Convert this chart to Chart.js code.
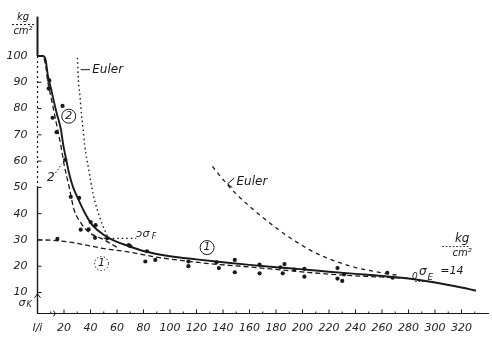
<!DOCTYPE html>
<html>
<head>
<meta charset="utf-8">
<script src="https://cdn.jsdelivr.net/npm/chart.js@4.4.0/dist/chart.umd.min.js"></script>
<style>
  html, body { margin: 0; padding: 0; background: #fff; }
</style>
</head>
<body>
<canvas id="GraficoKnick" width="492" height="342"></canvas>
<script>
/* Werte: Schlankheit l/i, Spannung kg/cm2 */
var xTicks = [0, 20, 40, 60, 80, 100, 120, 140, 160, 180, 200, 220, 240, 260, 280, 300, 320];
var yTicks = [10, 20, 30, 40, 50, 60, 70, 80, 90, 100];

// ausgezogene Kurve
var kurveLam = [0, 4, 6, 8, 10, 12, 14.4, 17.6, 19.5, 21.7, 24, 26.9, 30, 35, 40, 45, 55, 69, 80, 100, 120, 140, 160, 180, 200, 220, 240, 260, 280, 300, 320, 331];
var kurveSig = [100, 100, 98.8, 92, 88, 83.5, 78.4, 72.2, 66, 60.5, 55, 50, 46.4, 41, 36.6, 33.9, 30.4, 27.6, 25.8, 23.8, 22.6, 21.5, 20.5, 19.6, 18.8, 17.9, 17.1, 16.3, 15.3, 13.8, 11.9, 10.7];

// gestrichelt (1)
var eins_Lam = [0, 10, 24, 40, 49, 69, 88, 113, 138, 160, 203, 228, 250, 280];
var eins_Sig = [30, 29.9, 29.2, 27.7, 26.8, 25.4, 23.6, 21.9, 20.6, 19.7, 17.7, 16.7, 16.1, 15.4];

// gestrichelt (2)
var zwei_Lam = [5, 6.4, 7.6, 10.1, 12.6, 15.1, 17.6, 20.1, 23.9, 27.6, 32.6, 38.9, 48.9, 60];
var zwei_Sig = [99, 95.6, 90.7, 84.5, 78.4, 72.2, 66, 58.7, 50.1, 41.5, 36.6, 32.9, 30.4, 27.2];

// Euler links (punktiert)
var eulerA_Lam = [30.1, 30.9, 32.1, 33.1, 34.4, 35.6, 38.9, 41.9, 45.1, 48.9, 52.6];
var eulerA_Sig = [99.3, 90.7, 84.5, 78.3, 72.2, 66, 56.2, 47.6, 41.5, 35.9, 31.6];

// Fliessgrenze
var fliessLam = [50, 74.5];
var fliessSig = [30.6, 30.6];

// Euler rechts (gestrichelt)
var eulerB_Lam = [132, 140, 150, 160, 170, 180, 190, 200, 210, 220, 230, 240, 250, 262, 272];
var eulerB_Sig = [58, 53, 47.5, 42.8, 38.6, 34.6, 31, 27.8, 25, 22.8, 21, 19.5, 18.4, 17.3, 16.5];

// Versuchswerte
var versLam = [8.9, 8.4, 18.9, 11.4, 14.4, 20.9, 25.1, 31.4, 32.6, 40.1, 43.9, 43.4, 38.6, 52.6, 70.1, 15,
  68.9, 82.6, 81.4, 88.9, 113.9, 113.9, 135.1, 136.9, 148.9, 148.9,
  167.6, 167.6, 183.4, 186.4, 185.1, 193.9, 201.4, 201.4, 226.4, 226.4, 231.4, 230, 264, 268];
var versSig = [90.7, 87.6, 81, 76.5, 71, 60.5, 46.4, 46, 33.9, 36.8, 35.6, 30.8, 34, 30.6, 27.6, 30.4,
  28, 25.7, 21.8, 22.4, 21.8, 20, 21.5, 19.3, 22.4, 17.7,
  20.6, 17.3, 19.6, 20.8, 17.3, 18.7, 19, 16, 19.3, 15.3, 16.9, 14.4, 17.5, 15.6];

function punkte(lam, sig) {
    return lam.map(function (l, i) { return { x: l, y: sig[i] }; });
}

var tinte = '#1a1a1a';
var schrift = 'italic 11px "DejaVu Sans"';

function linie(lam, sig, dash, breite) {
    return {
        type: 'line',
        data: punkte(lam, sig),
        borderColor: tinte,
        borderWidth: breite,
        borderDash: dash,
        pointRadius: 0,
        fill: false,
        cubicInterpolationMode: 'monotone'
    };
}

var zusatz = {
    id: 'zusatz',
    afterDraw: function (chart) {
        var c = chart.ctx, sx = chart.scales.x, sy = chart.scales.y, a = chart.chartArea;
        var X = function (v) { return sx.getPixelForValue(v); };
        var Y = function (v) { return sy.getPixelForValue(v); };
        c.save();
        c.strokeStyle = tinte;
        c.fillStyle = tinte;

        // y-Achse
        c.lineWidth = 2;
        c.beginPath(); c.moveTo(a.left, a.top); c.lineTo(a.left, Y(100)); c.stroke();
        c.lineWidth = 1.2;
        c.setLineDash([2, 3]);
        c.beginPath(); c.moveTo(a.left, Y(100)); c.lineTo(a.left, Y(50)); c.stroke();
        c.setLineDash([]);
        c.lineWidth = 1.4;
        c.beginPath(); c.moveTo(a.left, Y(50)); c.lineTo(a.left, a.bottom); c.stroke();

        // Striche
        c.lineWidth = 1;
        yTicks.forEach(function (v) {
            c.beginPath(); c.moveTo(a.left, Y(v)); c.lineTo(a.left + 4, Y(v)); c.stroke();
        });
        for (var v = 10; v <= 330; v += 10) {
            var h = v % 20 === 0 ? 4 : 2;
            c.beginPath(); c.moveTo(X(v), a.bottom); c.lineTo(X(v), a.bottom - h); c.stroke();
        }

        // Pfeile unten links
        c.beginPath(); c.moveTo(a.left - 3, Y(8)); c.lineTo(a.left, Y(9.5)); c.lineTo(a.left + 3, Y(8)); c.stroke();
        c.beginPath(); c.moveTo(a.left + 5, a.bottom); c.lineTo(X(13.5), a.bottom); c.stroke();
        c.beginPath(); c.moveTo(X(12), a.bottom - 3); c.lineTo(X(13.5), a.bottom); c.lineTo(X(12), a.bottom + 3); c.stroke();

        c.font = schrift;
        c.textBaseline = 'middle';
        c.textAlign = 'center';

        // kg/cm2 oben
        c.font = 'italic 10px "DejaVu Sans"';
        c.fillText('kg', 23, 17);
        c.fillText('cm²', 23, 31);
        c.setLineDash([2, 2]);
        c.beginPath(); c.moveTo(12, 24.5); c.lineTo(35, 24.5); c.stroke();
        c.setLineDash([]);

        // sigma k
        c.font = 'italic 11px "DejaVu Sans"';
        c.fillText('σ', 22, 303);
        c.font = 'italic 8px "DejaVu Sans"';
        c.fillText('K', 29, 305);

        // Euler links
        c.font = 'italic 12px "DejaVu Sans"';
        c.textAlign = 'left';
        c.beginPath(); c.moveTo(X(32.6), Y(94.8)); c.lineTo(X(39.5), Y(94.8)); c.stroke();
        c.fillText('Euler', X(41.3), Y(94.8));

        // Euler rechts
        c.beginPath(); c.moveTo(X(148.5), Y(53.6)); c.lineTo(X(143.5), Y(51.3)); c.lineTo(X(147), Y(50)); c.stroke();
        c.fillText('Euler', X(150.2), Y(52));

        // Fliessgrenze
        c.font = 'italic 11px "DejaVu Sans"';
        c.fillText('ɔσ', X(74.6), Y(32.2));
        c.font = 'italic 8px "DejaVu Sans"';
        c.fillText('F', X(86.3), Y(31.1));

        // sigma E = 14
        c.font = 'italic 9px "DejaVu Sans"';
        c.fillText('0', X(282.6), Y(15.9));
        c.font = 'italic 12px "DejaVu Sans"';
        c.fillText('σ', X(288), Y(17.8));
        c.font = 'italic 9px "DejaVu Sans"';
        c.fillText('E', X(294.4), Y(15.7));
        c.font = 'italic 11px "DejaVu Sans"';
        c.fillText('=14', X(304), Y(18.3));
        c.setLineDash([1.5, 2]);
        c.beginPath(); c.moveTo(X(285), Y(14.2)); c.lineTo(X(301), Y(14.2)); c.stroke();
        c.setLineDash([]);

        // kg/cm2 rechts
        c.textAlign = 'center';
        c.font = 'italic 12px "DejaVu Sans"';
        c.fillText('kg', X(320.5), Y(30.5));
        c.font = 'italic 10px "DejaVu Sans"';
        c.fillText('cm²', X(320.5), Y(25));
        c.setLineDash([1.5, 2]);
        c.beginPath(); c.moveTo(X(305.5), Y(27.5)); c.lineTo(X(325.5), Y(27.5)); c.stroke();
        c.setLineDash([]);

        // Kreise (1) und (2)
        c.font = 'italic 11px "DejaVu Sans"';
        c.lineWidth = 1;
        c.beginPath(); c.arc(X(23.6), Y(77.1), 7, 0, 2 * Math.PI); c.stroke();
        c.fillText('2', X(23.6), Y(77.1));
        c.beginPath(); c.arc(X(128), Y(27.1), 7, 0, 2 * Math.PI); c.stroke();
        c.fillText('1', X(128), Y(27.1));
        c.setLineDash([1.5, 2]);
        c.beginPath(); c.arc(X(48.3), Y(21), 7, 0, 2 * Math.PI); c.stroke();
        c.setLineDash([]);
        c.fillText('1', X(48.3), Y(21));

        // Bezeichnung 2 mit Hinweislinie
        c.font = 'italic 12px "DejaVu Sans"';
        c.fillText('2', X(10.1), Y(53.5));
        c.setLineDash([1.5, 2]);
        c.beginPath(); c.moveTo(X(13.6), Y(55.5)); c.lineTo(X(18.5), Y(59)); c.stroke();
        c.setLineDash([]);

        c.restore();
    }
};

var ctx = document.getElementById('GraficoKnick').getContext('2d');

var grafico = new Chart(ctx, {
    type: 'scatter',
    data: {
        datasets: [
            linie(kurveLam, kurveSig, [], 1.9),
            linie(eins_Lam, eins_Sig, [5, 3], 1.3),
            linie(zwei_Lam, zwei_Sig, [5, 3], 1.3),
            linie(eulerA_Lam, eulerA_Sig, [1.5, 3], 1.4),
            linie(fliessLam, fliessSig, [1.5, 3], 1.3),
            linie(eulerB_Lam, eulerB_Sig, [4, 4], 1.3),
            {
                type: 'scatter',
                data: punkte(versLam, versSig),
                backgroundColor: tinte,
                borderColor: tinte,
                pointRadius: 2.1,
                borderWidth: 0
            }
        ]
    },
    options: {
        responsive: false,
        animation: false,
        layout: { padding: { left: 0, right: 0, top: 7, bottom: 0 } },
        plugins: {
            legend: { display: false },
            tooltip: { enabled: false }
        },
        scales: {
            x: {
                type: 'linear',
                min: 0,
                max: 340,
                afterBuildTicks: function (s) { s.ticks = xTicks.map(function (v) { return { value: v }; }); },
                afterFit: function (s) { s.height = 28.5; },
                grid: { display: false, drawTicks: false },
                border: { display: true, color: tinte, width: 1.1 },
                ticks: {
                    padding: 8,
                    autoSkip: false,
                    maxRotation: 0,
                    color: '#222',
                    font: { family: 'DejaVu Sans', style: 'italic', size: 11 },
                    callback: function (v) { return v === 0 ? 'l/i' : v; }
                }
            },
            y: {
                type: 'linear',
                min: 2,
                max: 115,
                afterBuildTicks: function (s) { s.ticks = yTicks.map(function (v) { return { value: v }; }); },
                afterFit: function (s) { s.width = 37.5; },
                grid: { display: false, drawTicks: false },
                border: { display: false },
                ticks: {
                    padding: 10,
                    color: '#222',
                    font: { family: 'DejaVu Sans', style: 'italic', size: 11 }
                }
            }
        }
    },
    plugins: [zusatz]
});
</script>
</body>
</html>
